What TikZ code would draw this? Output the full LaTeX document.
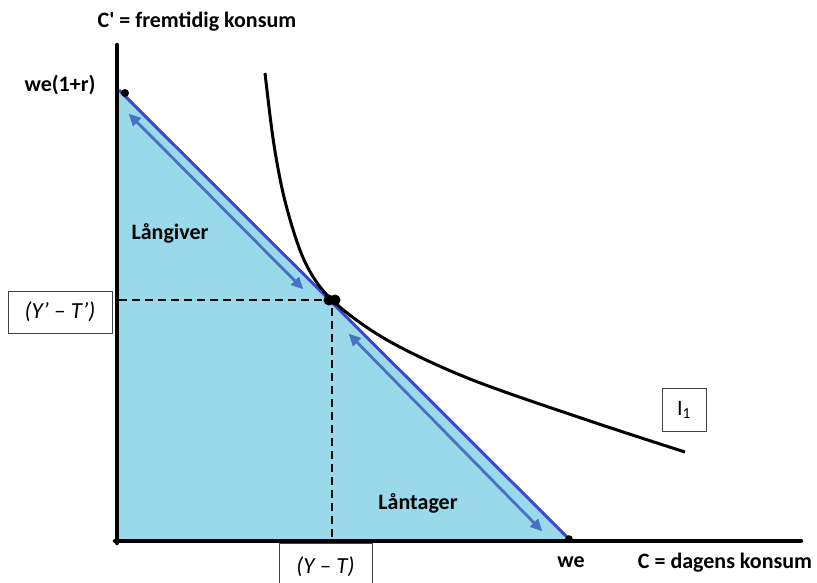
\documentclass[tikz,border=0pt]{standalone}
\usepackage{fontspec}
\setmainfont{Carlito}
\usetikzlibrary{arrows.meta,positioning}
\definecolor{budget}{HTML}{3F48CC}
\definecolor{skyfill}{HTML}{99D9EA}
\definecolor{move}{HTML}{4472C4}
\tikzset{
  axis/.style={line width=4.5pt, line cap=round},
  lbl/.style={font=\fontsize{22}{24}\selectfont\bfseries, inner sep=0pt},
  tagbox/.style={draw=black!75, line width=0.8pt, fill=white, inner sep=0pt,
                 font=\fontsize{23}{25}\selectfont\itshape},
  movearr/.style={{Triangle[length=12pt,width=11pt]}-{Triangle[length=12pt,width=11pt]},
                line width=2.8pt, color=move, shorten <=1pt, shorten >=1pt},
}

\begin{document}
\begin{tikzpicture}[x=1pt,y=-1pt,
      guide/.style={dashed, dash pattern=on 8pt off 5pt, line width=1.8pt},
      dot/.style={fill=black}]
  \useasboundingbox (0,0) rectangle (817,583);
  \coordinate (top) at (119,90);
  \coordinate (we) at (569,539);
  \coordinate (O) at (117,541);
  \coordinate (E) at (332,300);
  \coordinate (ey) at (119,300);
  \coordinate (ex) at (332,541);
  \coordinate (g1) at (128,113);
  \coordinate (g2) at (304,290);
  \coordinate (t1) at (348,333);
  \coordinate (t2) at (543,532);
  \fill[skyfill] (top) -- (O) -- (we) -- cycle;
  \draw[guide] (ey) -- (E) -- (ex);
  \draw[movearr] (g1) -- (g2);
  \draw[movearr] (t1) -- (t2);
  \draw[budget, line width=3pt] (top) -- (we);
  \draw[line width=3pt] plot[smooth, tension=0.55] coordinates {
    (265,73) (274,145) (286,205) (305,262) (332,300)
    (387,340) (470,379) (587,420) (685,452)};
  \draw[axis] (117,45) -- (117,543);
  \draw[axis] (115,541) -- (801,541);
  \fill[dot] (125,93) circle (4);
  \fill[dot] (we) circle (3.8);
  \fill[dot] (329,300) circle (5.5);
  \fill[dot] (335,300) circle (5.5);
  \node[lbl] (cy) at (197,22) {C\textquotesingle{} = fremtidig konsum};
  \node[lbl] (wer) at (60,85) {we(1+r)};
  \node[lbl] (lend) at (170,233) {Långiver};
  \node[lbl] (borrow) at (418,503) {Låntager};
  \node[lbl] (wex) at (571,562) {we};
  \node[lbl] (cx) at (725,563) {C = dagens konsum};
  \node[tagbox, minimum width=104, minimum height=42] (yt2) at (60,312) {(Y’ – T’)};
  \node[tagbox, minimum width=93, minimum height=47] (yt1) at (325.5,566.5) {(Y – T)};
  \node[tagbox, minimum width=44, minimum height=43,
        font=\fontsize{22}{24}\selectfont] (i1) at (684,409.5) {I\textsubscript{1}};
\end{tikzpicture}
\end{document}
